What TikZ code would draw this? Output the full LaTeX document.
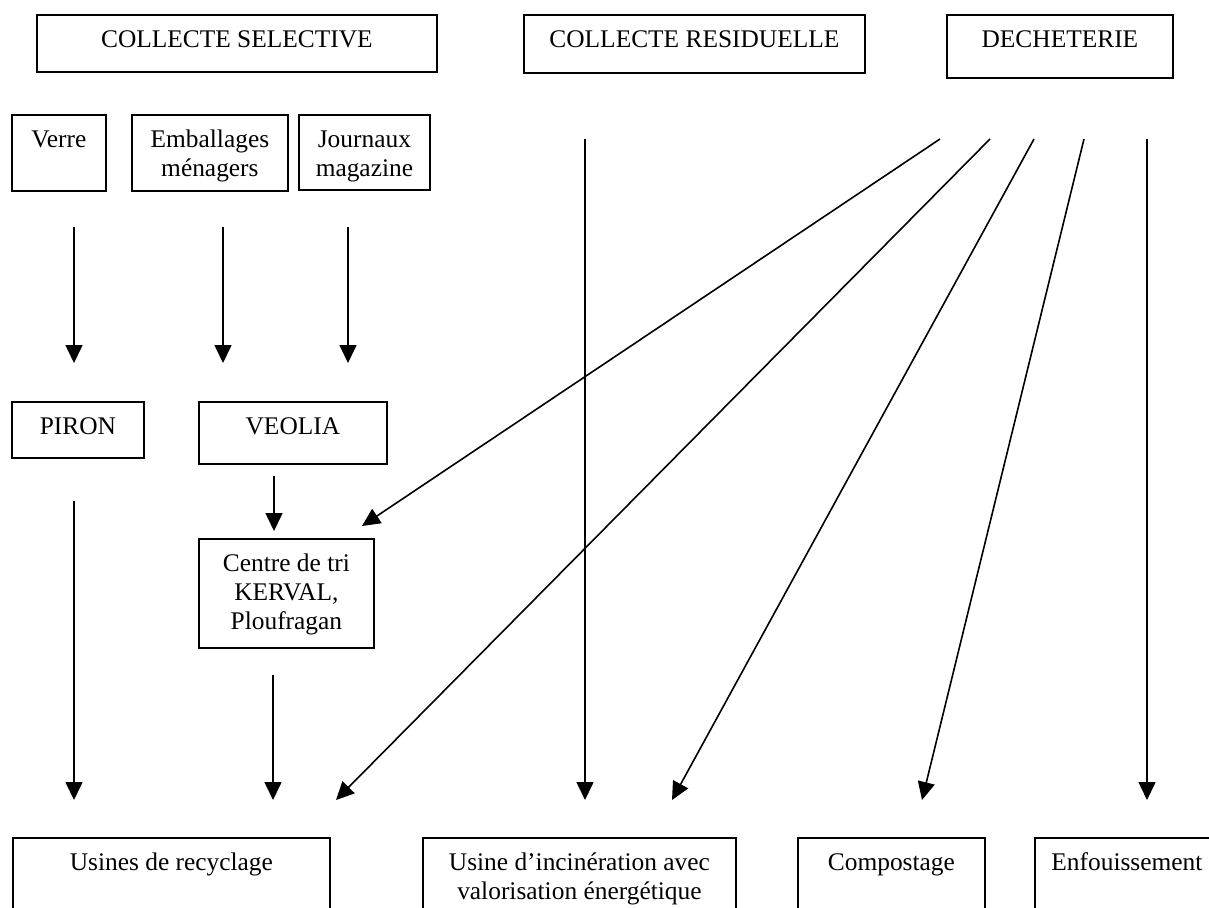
\documentclass[tikz,border=0pt]{standalone}
\usepackage{fontspec}
\setmainfont{Liberation Serif}
\usetikzlibrary{arrows.meta}
\newcommand\boxtext[3]{\parbox[t][#2pt][t]{#1pt}{\centering\rule{0pt}{33pt}#3}}
\begin{document}
\begin{tikzpicture}[x=1pt,y=-1pt,
  box/.style={draw, line width=1.8pt, inner sep=0pt, anchor=north west,
    font=\fontsize{25.4pt}{29pt}\selectfont},
  flow/.style={line width=1.6pt, -{Triangle[length=18pt,width=17pt]}}]
\clip (0,0) rectangle (1209,907);
\fill[white] (0,0) rectangle (1209,907);
% top boxes
\node[box] (cs) at (36,14) {\boxtext{400}{57}{COLLECTE SELECTIVE}};
\node[box] (cr) at (523,14) {\boxtext{341}{58}{COLLECTE RESIDUELLE}};
\node[box] (dc) at (946,14) {\boxtext{226}{63}{DECHETERIE}};
% second row
\node[box] (verre) at (11,114) {\boxtext{94}{76}{Verre}};
\node[box] (emb) at (131,114) {\boxtext{156}{76}{Emballages\\ménagers}};
\node[box] (jour) at (298,114) {\boxtext{131}{75}{Journaux\\magazine}};
% third row
\node[box] (piron) at (11,401) {\boxtext{132}{56}{PIRON}};
\node[box] (veolia) at (198,401) {\boxtext{188}{62}{VEOLIA}};
\node[box] (centre) at (198,538) {\boxtext{175}{109}{Centre de tri\\KERVAL,\\Ploufragan}};
% bottom boxes
\node[box] (usines) at (12,837) {\boxtext{317}{90}{Usines de recyclage}};
\node[box] (incin) at (422,837) {\boxtext{313}{90}{Usine d’incinération avec\\valorisation énergétique}};
\node[box] (compost) at (797,837) {\boxtext{187}{90}{Compostage}};
\node[box] (enf) at (1034,837) {\boxtext{184}{90}{Enfouissement}};
% arrow end points
\coordinate (v1) at (74,227);   \coordinate (v2) at (74,363);
\coordinate (e1) at (223,227);  \coordinate (e2) at (223,363);
\coordinate (j1) at (348,227);  \coordinate (j2) at (348,363);
\coordinate (p1) at (74,501);   \coordinate (p2) at (74,800);
\coordinate (o1) at (274,476);  \coordinate (o2) at (274,531);
\coordinate (c1) at (273,675);  \coordinate (c2) at (273,800);
\coordinate (r1) at (585,139);  \coordinate (r2) at (585,800);
\coordinate (d1) at (940,139);  \coordinate (d1e) at (362,526);
\coordinate (d2) at (990,139);  \coordinate (d2e) at (336,800);
\coordinate (d3) at (1034,139); \coordinate (d3e) at (672,800);
\coordinate (d4) at (1084,139); \coordinate (d4e) at (922,800);
\coordinate (d5) at (1147,139); \coordinate (d5e) at (1147,800);
% arrows
\draw[flow] (v1) -- (v2);
\draw[flow] (e1) -- (e2);
\draw[flow] (j1) -- (j2);
\draw[flow] (p1) -- (p2);
\draw[flow] (o1) -- (o2);
\draw[flow] (c1) -- (c2);
\draw[flow] (r1) -- (r2);
\draw[flow] (d1) -- (d1e);
\draw[flow] (d2) -- (d2e);
\draw[flow] (d3) -- (d3e);
\draw[flow] (d4) -- (d4e);
\draw[flow] (d5) -- (d5e);
\end{tikzpicture}
\end{document}
